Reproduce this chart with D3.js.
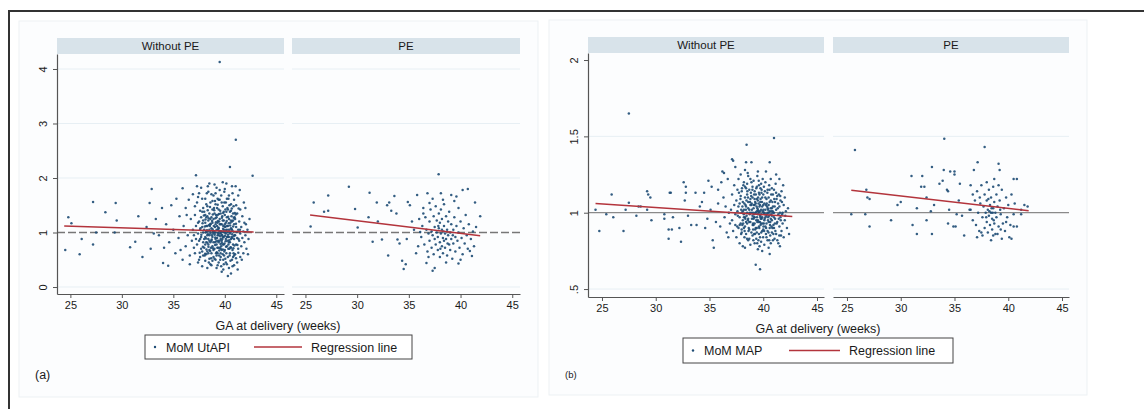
<!DOCTYPE html>
<html>
<head>
<meta charset="utf-8">
<script src="https://cdn.jsdelivr.net/npm/d3@7"></script>
<style>
  body { margin: 0; background: #fff; }
  text { font-family: "Liberation Sans", Arial, sans-serif; fill: #1a1a1a; }
</style>
</head>
<body>
<script>
// Data: facets, ticks and MoM values
const facetLabels = ["Without PE", "PE"];
const xTicks = [25, 30, 35, 40, 45];
const yTicksA = [0, 1, 2, 3, 4];
const yTicksB = [0.5, 1, 1.5, 2];
const yTickLabelsB = [".5", "1", "1.5", "2"];

// (a) MoM UtAPI, without PE
const ptsA1 = [
  [24.5,0.68],[24.8,1.28],[25.1,1.17],[25.9,0.6],[26.1,0.88],[27.2,0.78],[27.2,1.56],[27.5,1.0],[28.4,1.37],[29.3,1.0],
  [29.4,1.54],[29.5,1.22],[30.8,0.73],[31.3,0.83],[31.6,1.3],[32.0,0.55],[32.4,1.1],[32.8,0.7],[32.9,1.8],[33.3,1.25],
  [33.6,0.95],[33.9,1.45],[34.0,0.44],[34.3,1.15],[34.5,0.39],[34.6,0.82],[34.8,1.5],[35.0,1.05],[35.2,0.62],[35.3,1.62],
  [35.5,0.9],[35.6,1.3],[35.9,1.81],[35.9,0.5],[36.0,1.12],[36.2,0.75],[36.2,1.45],[36.4,0.95],[36.5,1.6],[36.6,0.58],
  [36.7,1.25],[36.8,0.85],[36.9,1.05],[32.7,1.54],[33.1,0.98],[34.1,0.72],[35.7,0.68],[36.3,1.32],[36.6,0.42],[36.9,1.7],
  [37.0,0.95],[37.1,1.32],[37.1,0.62],[37.2,2.05],[37.2,1.12],[37.3,0.78],[37.3,1.55],[37.4,0.98],[37.4,0.45],[37.5,1.2],
  [37.5,1.72],[37.5,0.85],[37.6,1.05],[37.6,0.55],[37.6,1.4],[37.7,0.92],[37.7,1.28],[37.7,0.7],[37.8,1.62],[37.8,1.1],
  [37.8,0.38],[37.9,0.82],[37.9,1.0],[37.9,1.45],[37.3,1.85],[37.0,0.72],[37.4,1.18],[37.6,0.88],[37.8,0.65],[37.9,1.22],
  [37.1,1.48],[37.5,0.5],[37.2,0.88],[37.7,1.82],[37.4,1.65],[37.9,0.58],
  [38.0,1.05],[38.0,0.72],[38.0,1.38],[38.1,0.92],[38.1,1.62],[38.1,0.48],[38.1,1.18],[38.2,0.82],[38.2,1.28],[38.2,1.02],
  [38.2,0.6],[38.3,1.48],[38.3,0.95],[38.3,0.35],[38.3,1.12],[38.4,0.78],[38.4,1.75],[38.4,1.22],[38.4,0.88],[38.5,1.05],
  [38.5,0.52],[38.5,1.35],[38.5,0.68],[38.5,1.9],[38.6,0.98],[38.6,1.15],[38.6,0.42],[38.6,1.55],[38.7,0.85],[38.7,1.08],
  [38.7,1.28],[38.7,0.62],[38.8,0.92],[38.8,1.42],[38.8,0.75],[38.8,1.18],[38.9,1.02],[38.9,0.55],[38.9,1.68],[38.9,0.82],
  [38.0,0.88],[38.1,1.32],[38.2,1.52],[38.3,0.65],[38.4,1.02],[38.5,0.85],[38.6,1.25],[38.7,1.7],[38.8,0.48],[38.9,1.25],
  [38.05,0.58],[38.25,1.72],[38.45,0.45],[38.65,0.72],[38.85,1.02],[38.15,1.0],[38.35,1.85],[38.55,1.12],[38.75,0.95],[38.95,1.45],
  [38.1,0.78],[38.3,1.3],[38.5,0.95],[38.7,0.4],[38.9,0.68],[38.2,1.12],[38.4,0.62],[38.6,0.82],[38.8,1.58],
  [39.0,1.0],[39.0,0.7],[39.0,1.35],[39.0,1.88],[39.1,0.88],[39.1,1.15],[39.1,0.5],[39.1,1.52],[39.2,1.05],[39.2,0.78],
  [39.2,1.28],[39.2,0.35],[39.3,0.95],[39.3,1.62],[39.3,0.62],[39.3,1.18],[39.4,1.08],[39.4,0.82],[39.4,1.42],[39.4,0.45],
  [39.5,0.98],[39.5,1.25],[39.5,0.72],[39.5,1.78],[39.6,1.02],[39.6,0.55],[39.6,1.35],[39.6,0.88],[39.7,1.15],[39.7,0.68],
  [39.7,1.55],[39.7,0.28],[39.8,0.92],[39.8,1.22],[39.8,0.6],[39.8,1.92],[39.9,1.05],[39.9,0.78],[39.9,1.38],[39.9,0.42],
  [39.05,1.1],[39.15,0.62],[39.25,1.45],[39.35,0.85],[39.45,1.2],[39.55,0.5],[39.65,1.68],[39.75,0.95],[39.85,1.12],[39.95,0.65],
  [39.05,0.82],[39.15,1.32],[39.25,0.9],[39.35,1.05],[39.45,0.58],[39.55,1.4],[39.65,0.75],[39.75,1.3],[39.85,0.5],[39.95,1.55],
  [39.1,1.72],[39.3,0.4],[39.5,1.6],[39.7,0.85],[39.9,0.92],[39.2,0.58],[39.4,1.6],[39.6,0.7],[39.8,1.48],[39.0,0.52],
  [39.2,1.82],[39.4,0.95],[39.6,1.15],[39.8,0.78],[39.1,1.0],[39.3,1.32],[39.5,0.85],[39.7,1.02],[39.9,1.22],[39.05,1.58],
  [39.35,0.72],[39.65,0.38],[39.95,1.75],[39.25,1.12],[39.55,1.02],[39.85,0.32],[39.5,4.13],
  [40.0,1.0],[40.0,0.68],[40.0,1.32],[40.0,1.8],[40.1,0.88],[40.1,1.18],[40.1,0.45],[40.1,1.55],[40.2,1.05],[40.2,0.75],
  [40.2,1.28],[40.3,0.92],[40.3,0.55],[40.3,1.42],[40.3,1.12],[40.4,0.82],[40.4,1.25],[40.4,0.35],[40.4,1.68],[40.5,0.98],
  [40.5,0.62],[40.5,1.38],[40.5,2.2],[40.6,1.08],[40.6,0.72],[40.6,1.52],[40.6,0.25],[40.7,0.9],[40.7,1.2],[40.7,0.5],
  [40.7,1.85],[40.8,1.02],[40.8,0.78],[40.8,1.35],[40.9,0.88],[40.9,1.15],[40.9,0.58],[40.9,1.6],[40.05,1.1],[40.15,0.62],
  [40.25,1.45],[40.35,0.78],[40.45,1.02],[40.55,0.48],[40.65,1.3],[40.75,0.68],[40.85,1.48],[40.95,0.95],[40.05,0.52],[40.15,1.38],
  [40.25,0.85],[40.35,1.62],[40.45,0.7],[40.55,1.18],[40.65,0.92],[40.75,1.72],[40.85,0.62],[40.95,1.28],[40.1,0.98],[40.3,0.2],
  [40.5,0.82],[40.7,1.05],[40.9,0.4],[40.2,1.62],[40.4,1.05],[40.6,0.88],[40.8,1.22],[40.0,1.15],[40.2,0.42],[40.4,0.92],
  [40.6,1.4],[40.8,0.55],[40.15,1.9],[40.45,1.5],[40.75,0.38],
  [41.0,0.95],[41.0,1.25],[41.0,0.6],[41.07,2.7],[41.1,1.1],[41.1,0.78],[41.1,1.5],[41.2,0.9],[41.2,1.35],[41.2,0.45],
  [41.3,1.05],[41.3,0.7],[41.3,1.68],[41.4,0.85],[41.4,1.2],[41.5,0.98],[41.5,0.55],[41.5,1.42],[41.6,1.1],[41.6,0.75],
  [41.7,0.9],[41.7,1.3],[41.8,1.02],[41.8,0.62],[41.9,1.18],[41.9,0.82],[42.0,0.95],[42.0,1.45],[42.1,0.7],[42.2,1.05],
  [42.3,0.88],[42.4,1.25],[42.7,2.04],[41.05,1.85],[41.25,0.32],[41.45,1.78],[41.65,0.5],[41.85,1.55],[42.05,1.15],[42.25,0.6],
  [37.63,1.08],[37.87,0.74],[38.12,1.24],[38.37,0.97],[38.58,0.66],[38.83,1.33],[39.07,0.91],[39.32,1.21],[39.58,0.79],[39.83,1.07],
  [40.08,0.84],[40.33,1.29],[40.58,1.01],[40.83,0.71],[41.08,1.16],[41.33,0.88],[37.72,0.96],[37.97,1.31],[38.22,0.69],[38.47,1.14],
  [38.72,0.87],[38.97,1.41],[39.22,0.64],[39.47,1.03],[39.72,1.27],[39.97,0.8],[40.22,1.12],[40.47,0.58],[40.72,0.97],[40.97,1.36],
  [41.22,0.77],[41.47,1.05],[37.84,1.17],[38.09,0.61],[38.34,1.41],[38.59,1.01],[38.84,0.71],[39.09,1.26],[39.34,0.99],[39.59,0.62],
  [39.84,1.36],[40.09,1.04],[40.34,0.7],[40.59,1.22],[40.84,0.93],[41.09,0.53],[41.34,1.44],[37.56,0.63],[37.81,1.38],[38.06,1.11],
  [38.31,0.81],[38.56,1.47],[38.81,1.06],[39.06,0.77],[39.31,1.51],[39.56,0.93],[39.81,0.69],[40.06,1.42],[40.31,0.96],[40.56,0.73],
  [40.81,1.11],[41.06,1.33],[41.31,0.63],[38.18,0.89],[38.43,1.26],[38.68,0.53],[38.93,1.12],[39.18,0.84],[39.43,1.34],[39.68,0.96],
  [39.93,0.58],[40.18,1.21],[40.43,0.86],[40.68,1.44],[40.93,0.76],[39.02,0.96],[39.27,0.72],[39.52,1.15],[39.77,0.88],[40.02,0.94],
  [40.27,1.01],[40.52,1.13],[39.62,0.99],[39.38,1.09],[40.12,0.74],[38.62,1.16],[38.88,0.98],[39.14,1.19],[39.88,1.01],[40.38,1.17],
  [38.41,0.74],[39.71,0.81],[40.64,1.06],[41.16,1.01],[38.27,1.04],[39.46,0.67],[40.21,0.92],[40.87,1.27],[38.77,1.21],[39.99,1.11]
];

// (a) MoM UtAPI, PE
const ptsA2 = [
  [37.88,2.07],[29.2,1.84],[27.2,1.68],[25.8,1.55],[31.2,1.73],[26.8,1.38],[27.2,1.4],[25.5,1.11],[29.8,1.43],[30.05,1.09],
  [31.1,1.28],[31.9,1.55],[32.0,1.2],[31.5,0.83],[32.4,0.87],[33.0,0.58],[32.9,1.5],[33.1,1.55],[33.6,1.67],[33.3,1.4],
  [33.8,1.35],[33.9,0.87],[34.1,0.8],[34.35,0.48],[34.7,0.42],[34.5,0.33],[34.9,1.56],[35.1,1.5],[35.3,1.2],[34.8,0.88],
  [35.8,1.69],[35.7,0.62],[36.1,1.01],[36.4,1.35],[36.7,0.44],[36.8,1.72],[37.0,1.54],[37.3,0.3],[37.5,0.35],[38.1,1.72],
  [38.3,1.6],[39.1,1.69],[39.6,1.66],[40.2,1.78],[40.7,1.8],[41.4,1.55],[41.9,1.3],[40.9,0.66],[39.8,0.43],[41.1,0.57],
  [36.2,0.92],[36.3,1.12],[36.5,0.78],[36.6,1.28],[36.7,1.05],[36.8,0.65],[36.9,0.98],[37.0,1.2],[37.0,0.85],[37.1,1.42],
  [37.2,0.72],[37.2,1.02],[37.3,0.95],[37.4,1.3],[37.4,0.6],[37.5,1.1],[37.5,0.88],[37.6,1.48],[37.6,0.78],[37.7,1.0],
  [37.7,1.22],[37.8,0.68],[37.8,0.92],[37.9,1.35],[37.9,1.08],[38.0,0.82],[38.0,1.18],[38.0,0.55],[38.1,0.98],[38.1,1.42],
  [38.2,0.75],[38.2,1.05],[38.2,1.25],[38.3,0.9],[38.3,0.62],[38.4,1.12],[38.4,0.85],[38.4,1.52],[38.5,0.98],[38.5,0.72],
  [38.6,1.3],[38.6,0.88],[38.7,1.05],[38.7,0.58],[38.8,0.95],[38.8,1.2],[38.9,0.78],[38.9,1.38],[39.0,1.0],[39.0,0.68],
  [39.1,1.15],[39.1,0.88],[39.2,0.52],[39.3,1.05],[39.3,0.8],[39.4,1.28],[39.5,0.92],[39.5,0.65],[39.6,1.12],[39.7,0.85],
  [39.8,1.45],[39.8,1.0],[39.9,0.72],[40.0,1.2],[40.1,0.9],[40.2,0.6],[40.3,1.08],[40.4,0.8],[40.5,1.32],[40.6,0.95],
  [40.7,0.7],[40.8,1.15],[41.0,0.88],[41.2,1.02],[41.3,0.75],[41.5,1.1],[36.4,1.45],[36.9,0.55],[37.3,1.62],[38.6,0.45],
  [39.4,1.58],[40.0,0.5],[35.5,1.05],[35.9,0.75],[36.0,1.25],[38.35,1.02],[38.75,0.8],[39.25,0.95],[37.85,1.12],[38.05,0.7]
];

// (b) MoM MAP, without PE
const ptsB1 = [
  [24.4,1.02],[24.75,0.88],[25.4,0.99],[25.9,1.12],[26.05,0.97],[27.0,0.88],[27.2,1.02],[27.5,1.065],[27.5,1.65],[28.2,0.98],
  [28.4,1.04],[28.6,1.04],[29.2,1.02],[29.2,1.14],[29.3,1.12],[29.5,1.1],[29.6,0.95],[30.8,0.99],[30.8,0.96],[31.2,0.89],
  [31.2,0.83],[31.3,1.13],[31.4,1.13],[31.5,0.89],[31.6,0.97],[32.2,0.9],[32.35,0.81],[32.6,1.2],[32.7,1.08],[32.8,1.17],
  [32.8,1.13],[33.0,0.98],[33.3,0.92],[33.7,1.13],[33.8,0.92],[34.1,1.04],[34.3,1.07],[34.5,1.13],[34.6,0.9],[34.8,0.96],
  [34.9,1.21],[35.2,1.17],[35.3,0.82],[35.4,0.77],[35.8,1.15],[35.8,1.06],[36.0,0.91],[36.1,1.2],[36.2,1.27],[36.35,1.26],
  [36.4,0.97],[36.5,1.04],[36.6,0.87],[36.7,1.22],[36.8,1.0],[36.9,0.93],[37.1,1.35],[37.2,1.34],[37.4,1.3],[38.3,0.77],
  [38.45,1.445],[38.4,1.33],[38.9,1.33],[39.3,0.66],[39.7,0.63],[40.6,0.73],[41.0,1.49],[40.6,1.33],[41.2,1.25],[41.5,1.22],
  [37.9,1.25],[35.6,0.94],[36.3,1.1],[36.75,0.84],[35.1,1.02],
  [37.0,1.02],[37.1,0.95],[37.1,1.12],[37.2,0.88],[37.3,1.05],[37.3,1.18],[37.4,0.92],[37.4,0.99],[37.5,1.08],[37.5,0.84],
  [37.6,1.15],[37.6,1.01],[37.7,0.9],[37.7,1.22],[37.8,0.97],[37.8,1.06],[37.8,0.8],[37.9,1.11],[37.9,0.93],[37.95,1.02],
  [38.0,1.0],[38.0,0.87],[38.0,1.14],[38.1,0.95],[38.1,1.07],[38.1,0.78],[38.2,1.2],[38.2,1.02],[38.2,0.9],[38.3,0.97],
  [38.3,1.1],[38.3,1.28],[38.4,1.04],[38.4,0.86],[38.4,1.16],[38.5,0.93],[38.5,1.0],[38.5,1.12],[38.6,0.82],[38.6,1.07],
  [38.6,0.96],[38.6,1.24],[38.7,1.02],[38.7,0.89],[38.7,1.15],[38.8,0.94],[38.8,1.09],[38.8,0.79],[38.9,1.0],[38.9,1.2],
  [38.9,0.87],[38.05,0.92],[38.15,1.18],[38.25,0.84],[38.35,1.05],[38.45,0.98],[38.55,1.26],[38.65,0.9],[38.75,1.0],[38.85,1.13],
  [38.95,0.96],[38.1,1.01],[38.3,0.91],[38.5,1.19],[38.7,0.83],[38.9,1.05],[38.2,0.97],[38.4,0.94],[38.6,1.03],[38.8,1.22],
  [39.0,0.98],[39.0,1.1],[39.0,0.85],[39.1,1.03],[39.1,0.92],[39.1,1.21],[39.2,0.97],[39.2,1.14],[39.2,0.8],[39.3,1.06],
  [39.3,0.9],[39.4,1.01],[39.4,1.17],[39.4,0.87],[39.5,0.95],[39.5,1.08],[39.5,0.76],[39.5,1.27],[39.6,1.0],[39.6,0.91],
  [39.6,1.13],[39.7,0.98],[39.7,1.05],[39.7,0.84],[39.8,1.19],[39.8,0.93],[39.8,1.02],[39.9,0.88],[39.9,1.1],[39.9,0.97],
  [39.9,0.75],[39.05,1.0],[39.15,0.86],[39.25,1.07],[39.35,0.95],[39.45,1.24],[39.55,0.82],[39.65,1.04],[39.75,0.92],[39.85,1.15],
  [39.95,1.01],[39.05,0.93],[39.15,1.12],[39.25,0.89],[39.35,1.16],[39.45,0.94],[39.55,1.01],[39.65,0.78],[39.75,1.09],[39.85,0.96],
  [39.95,1.22],[39.1,0.96],[39.3,1.0],[39.5,1.02],[39.7,0.94],[39.9,1.04],[39.2,1.05],[39.4,0.9],[39.6,0.86],[39.8,0.99],
  [39.0,1.17],[39.2,0.93],[39.4,1.09],[39.6,1.18],[39.8,0.81],[39.15,0.99],[39.45,1.03],[39.75,0.97],[39.35,0.83],[39.65,1.12],
  [40.0,1.0],[40.0,0.89],[40.0,1.12],[40.1,0.95],[40.1,1.06],[40.1,0.79],[40.2,1.02],[40.2,1.2],[40.2,0.91],[40.3,0.98],
  [40.3,1.09],[40.3,0.84],[40.4,1.0],[40.4,1.15],[40.4,0.88],[40.5,0.94],[40.5,1.05],[40.5,0.77],[40.6,1.01],[40.6,0.9],
  [40.7,1.08],[40.7,0.96],[40.7,1.22],[40.8,0.87],[40.8,1.03],[40.8,0.95],[40.9,1.12],[40.9,0.82],[40.9,1.0],[40.05,0.93],
  [40.15,1.14],[40.25,0.86],[40.35,1.04],[40.45,0.97],[40.55,1.18],[40.65,0.85],[40.75,1.01],[40.85,1.07],[40.95,0.92],[40.1,1.0],
  [40.3,0.93],[40.5,1.1],[40.7,0.8],[40.9,1.04],[40.2,0.97],[40.4,0.82],[40.6,1.07],[40.8,1.16],[40.0,1.05],[40.25,1.27],
  [40.55,0.98],[40.85,0.9],[40.15,0.99],[40.45,1.02],[40.65,0.94],
  [41.0,1.0],[41.0,0.9],[41.0,1.15],[41.1,0.96],[41.1,1.07],[41.2,0.86],[41.2,1.02],[41.3,0.94],[41.3,1.11],[41.4,0.99],
  [41.4,0.8],[41.5,1.04],[41.5,0.91],[41.6,0.97],[41.6,1.08],[41.7,0.88],[41.7,1.14],[41.8,1.0],[41.8,0.93],[41.9,1.05],
  [41.9,0.84],[42.0,1.1],[42.0,0.95],[42.1,1.01],[42.2,0.9],[42.3,1.03],[42.4,0.86],[41.05,0.83],[41.25,0.93],[41.45,1.12],
  [41.65,0.85],[41.85,1.18],[42.05,0.98],[41.15,1.19],[41.35,1.03],[41.55,0.78],[41.75,0.99],
  [37.63,0.98],[37.88,1.09],[38.13,0.93],[38.38,1.02],[38.63,0.88],[38.88,1.11],[39.13,0.97],[39.38,1.04],[39.63,0.9],[39.88,1.07],
  [40.13,0.96],[40.38,1.13],[40.63,0.92],[40.88,1.01],[41.13,0.88],[41.38,1.06],[41.63,0.95],[37.74,1.13],[37.99,0.89],[38.24,1.06],
  [38.49,0.83],[38.74,0.99],[38.99,1.15],[39.24,0.86],[39.49,0.99],[39.74,1.16],[39.99,0.84],[40.24,1.05],[40.49,0.87],[40.74,1.12],
  [40.99,0.97],[41.24,1.09],[41.49,0.85],[41.74,1.07],[37.81,0.92],[38.06,1.04],[38.31,1.17],[38.56,0.95],[38.81,1.05],[39.06,0.89],
  [39.31,1.12],[39.56,1.06],[39.81,0.87],[40.06,1.17],[40.31,0.99],[40.56,0.82],[40.81,0.98],[41.06,1.04],[41.31,0.82],[41.56,1.0],
  [37.69,1.04],[37.94,0.86],[38.19,0.99],[38.44,1.08],[38.69,0.94],[38.94,1.02],[39.19,1.09],[39.44,0.8],[39.69,1.01],[39.94,0.93],
  [40.19,1.1],[40.44,0.95],[40.69,1.03],[40.94,0.86],[41.19,1.13],[41.44,0.96],[38.27,0.88],[38.52,1.14],[38.77,1.07],[39.02,0.92],
  [39.27,1.0],[39.52,1.1],[39.77,0.96],[40.02,1.02],[40.27,0.9],[40.52,1.0],[40.77,0.91],[41.02,1.09],[39.12,1.05],[39.42,0.97],
  [39.72,1.07],[40.02,0.91],[40.32,1.06],[39.58,0.94],[38.92,1.06],[40.42,1.03],[37.58,0.91],[38.02,1.16],[38.58,1.1],[39.08,0.82],
  [39.58,1.21],[40.08,0.88],[40.58,1.15],[41.08,0.93],[41.58,1.11],[38.33,0.96],[39.83,1.13],[40.73,0.99]
];

// (b) MoM MAP, PE
const ptsB2 = [
  [25.74,1.41],[34.05,1.485],[37.8,1.43],[37.15,1.33],[32.9,1.3],[34.0,1.28],[34.6,1.27],[35.0,1.27],[35.0,1.25],[31.0,1.24],
  [32.0,1.24],[39.1,1.32],[39.2,1.28],[36.8,1.28],[40.5,1.22],[40.8,1.22],[26.8,1.15],[26.9,1.1],[27.1,1.09],[25.4,0.99],
  [26.7,0.99],[27.1,0.91],[29.1,0.95],[29.7,1.05],[30.0,1.07],[31.1,0.92],[31.5,0.86],[31.5,1.03],[31.9,1.17],[32.2,1.17],
  [32.4,1.1],[32.4,0.95],[32.9,0.86],[32.8,1.01],[33.1,1.05],[33.6,1.19],[33.9,1.21],[34.3,1.15],[34.4,1.14],[34.4,0.93],
  [34.9,0.91],[35.1,0.91],[34.5,1.02],[35.2,0.99],[35.4,1.08],[35.5,1.19],[35.9,0.85],[35.7,0.98],[36.4,1.02],[36.5,1.18],
  [36.7,1.12],[37.1,0.84],[37.5,0.87],[38.6,0.85],[39.0,0.86],[40.1,0.84],[40.3,0.83],[40.5,0.91],[40.8,0.91],[41.2,0.99],
  [41.5,1.05],[41.8,1.04],[41.2,1.02],[39.3,0.89],[39.8,0.94],
  [36.5,1.02],[36.7,0.95],[36.9,1.08],[37.0,0.92],[37.1,1.14],[37.2,1.0],[37.3,0.88],[37.4,1.06],[37.5,1.18],[37.6,0.97],
  [37.7,1.04],[37.8,0.9],[37.8,1.12],[37.9,1.0],[38.0,0.94],[38.0,1.08],[38.1,1.02],[38.1,0.87],[38.2,1.15],[38.2,0.98],
  [38.3,1.05],[38.3,0.92],[38.4,1.0],[38.4,1.1],[38.5,0.96],[38.5,0.89],[38.6,1.03],[38.6,1.17],[38.7,0.93],[38.7,1.07],
  [38.8,1.0],[38.8,0.86],[38.9,1.12],[38.9,0.97],[39.0,1.04],[39.1,0.91],[39.2,1.08],[39.3,0.99],[39.4,1.15],[39.5,0.93],
  [39.6,1.03],[39.7,0.88],[39.8,1.1],[39.9,0.97],[40.0,1.05],[40.2,0.92],[40.3,1.12],[40.5,0.99],[40.6,1.06],[37.6,0.85],
  [38.0,1.2],[38.4,0.82],[38.7,1.22],[39.1,1.18],[39.4,0.83],[38.25,1.01],[38.55,1.0],[37.95,0.97],[38.65,0.95],[39.25,1.02],
  [37.35,1.1],[38.15,1.09],[38.45,1.03]
];

// Regression lines (end points)
const regA1 = [[24.4, 1.12], [42.8, 1.01]];
const regA2 = [[25.45, 1.32], [41.9, 0.94]];
const regB1 = [[24.4, 1.06], [42.7, 0.975]];
const regB2 = [[25.4, 1.147], [41.9, 1.013]];

// Layout
const width = 1144, height = 409;
const svg = d3.select("body").append("svg").attr("width", width).attr("height", height);

// outer frame (cropped on right/bottom)
svg.append("path")
  .attr("d", "M9,409V11H1144")
  .attr("fill", "none").attr("stroke", "#333").attr("stroke-width", 2);

const panels = [
  {
    card: [19, 21, 519, 376],
    stripY: 38, stripH: 16,
    yDomain: [-0.128, 4.275], yRange: [294, 54],
    yTicks: yTicksA, yFmt: d => String(d), grid: [0, 2, 3, 4],
    xDomain: [23.7, 45.75],
    facets: [{x0: 57, x1: 284, pts: ptsA1, reg: regA1}, {x0: 292, x1: 520, pts: ptsA2, reg: regA2}],
    refDash: "8,3",
    xTitle: "GA at delivery (weeks)", xTitleX: 278, xTitleY: 330,
    legend: {x: 145, y: 335, w: 267, h: 24, dotX: 155, lab1X: 166, lineX0: 254, lineX1: 302, lab2X: 311, label: "MoM UtAPI"},
    tag: "(a)", tagX: 35, tagY: 379, tagSize: 12.5
  },
  {
    card: [549, 20, 538, 375],
    stripY: 37, stripH: 16,
    yDomain: [0.448, 2.046], yRange: [297, 53],
    yTicks: yTicksB, yFmt: d => yTickLabelsB[yTicksB.indexOf(d)], grid: [0.5, 1.5],
    xDomain: [23.7, 45.65],
    facets: [{x0: 588, x1: 824, pts: ptsB1, reg: regB1}, {x0: 833, x1: 1069, pts: ptsB2, reg: regB2}],
    refDash: null,
    xTitle: "GA at delivery  (weeks)", xTitleX: 818, xTitleY: 333,
    legend: {x: 683, y: 338, w: 270, h: 25, dotX: 693, lab1X: 704, lineX0: 789, lineX1: 840, lab2X: 849, label: "MoM MAP"},
    tag: "(b)", tagX: 565, tagY: 378, tagSize: 9.5
  }
];

panels.forEach(p => {
  const g = svg.append("g");
  g.append("rect")
    .attr("x", p.card[0]).attr("y", p.card[1]).attr("width", p.card[2]).attr("height", p.card[3])
    .attr("fill", "#fcfdfe").attr("stroke", "#edf1f4");

  const y = d3.scaleLinear().domain(p.yDomain).range(p.yRange);

  p.facets.forEach((f, i) => {
    const x = d3.scaleLinear().domain(p.xDomain).range([f.x0, f.x1]);

    // strip header
    g.append("rect")
      .attr("x", f.x0).attr("y", p.stripY).attr("width", f.x1 - f.x0).attr("height", p.stripH)
      .attr("fill", "#d8e3ea");
    g.append("text")
      .attr("x", (f.x0 + f.x1) / 2).attr("y", p.stripY + 12)
      .attr("text-anchor", "middle").style("font-size", "11.5px")
      .text(facetLabels[i]);

    // grid
    g.append("g").selectAll("line")
      .data(p.grid)
      .join("line")
      .attr("x1", f.x0).attr("x2", f.x1)
      .attr("y1", d => y(d)).attr("y2", d => y(d))
      .attr("stroke", "#e7eff4").attr("stroke-width", 1);

    // reference line at 1
    g.append("line")
      .attr("x1", f.x0).attr("x2", f.x1)
      .attr("y1", y(1)).attr("y2", y(1))
      .attr("stroke", p.refDash ? "#777" : "#8a8a8a")
      .attr("stroke-width", p.refDash ? 1.5 : 1.2)
      .attr("stroke-dasharray", p.refDash);

    // points
    g.append("g").selectAll("circle")
      .data(f.pts)
      .join("circle")
      .attr("cx", d => x(d[0]))
      .attr("cy", d => y(d[1]))
      .attr("r", 1.25)
      .attr("fill", "#1d4b74")
      .attr("fill-opacity", 0.9);

    // regression line
    g.append("path")
      .datum(f.reg)
      .attr("d", d3.line().x(d => x(d[0])).y(d => y(d[1])))
      .attr("fill", "none").attr("stroke", "#b3343c").attr("stroke-width", 1.5);

    // x axis
    const ax = g.append("g")
      .attr("transform", `translate(0,${p.yRange[0]})`)
      .call(d3.axisBottom(x).tickValues(xTicks).tickSize(4).tickSizeOuter(0).tickPadding(3));
    ax.select(".domain").attr("stroke", "#555").attr("stroke-width", 1.2);
    ax.selectAll(".tick line").attr("stroke", "#555");
    ax.selectAll(".tick text").style("font-size", "11px").style("font-family", "Liberation Sans, Arial, sans-serif").attr("fill", "#222");
  });

  // y axis on left facet
  const f0 = p.facets[0];
  const ay = g.append("g")
    .attr("transform", `translate(${f0.x0},0)`)
    .call(d3.axisLeft(y).tickValues(p.yTicks).tickFormat(p.yFmt).tickSize(4).tickSizeOuter(0));
  ay.select(".domain").attr("stroke", "#555").attr("stroke-width", 1.2);
  ay.selectAll(".tick line").attr("stroke", "#555");
  ay.selectAll(".tick text")
    .attr("x", null).attr("dy", null)
    .attr("transform", "translate(-10,0) rotate(-90)")
    .attr("text-anchor", "middle")
    .style("font-size", "11px").style("font-family", "Liberation Sans, Arial, sans-serif").attr("fill", "#222");

  // x title
  g.append("text")
    .attr("x", p.xTitleX).attr("y", p.xTitleY)
    .attr("text-anchor", "middle").style("font-size", "12.5px")
    .text(p.xTitle);

  // legend
  const L = p.legend;
  const lg = g.append("g");
  lg.append("rect")
    .attr("x", L.x).attr("y", L.y).attr("width", L.w).attr("height", L.h)
    .attr("fill", "#fff").attr("stroke", "#444").attr("stroke-width", 1);
  const cy = L.y + L.h / 2;
  lg.append("circle").attr("cx", L.dotX).attr("cy", cy).attr("r", 1.2).attr("fill", "#1d4b74");
  lg.append("text").attr("x", L.lab1X).attr("y", cy + 4.5).style("font-size", "12.5px").text(L.label);
  lg.append("line")
    .attr("x1", L.lineX0).attr("x2", L.lineX1).attr("y1", cy).attr("y2", cy)
    .attr("stroke", "#b3343c").attr("stroke-width", 1.5);
  lg.append("text").attr("x", L.lab2X).attr("y", cy + 4.5).style("font-size", "12.5px").text("Regression line");

  // panel tag
  g.append("text")
    .attr("x", p.tagX).attr("y", p.tagY)
    .style("font-size", p.tagSize + "px")
    .text(p.tag);
});
</script>
</body>
</html>
